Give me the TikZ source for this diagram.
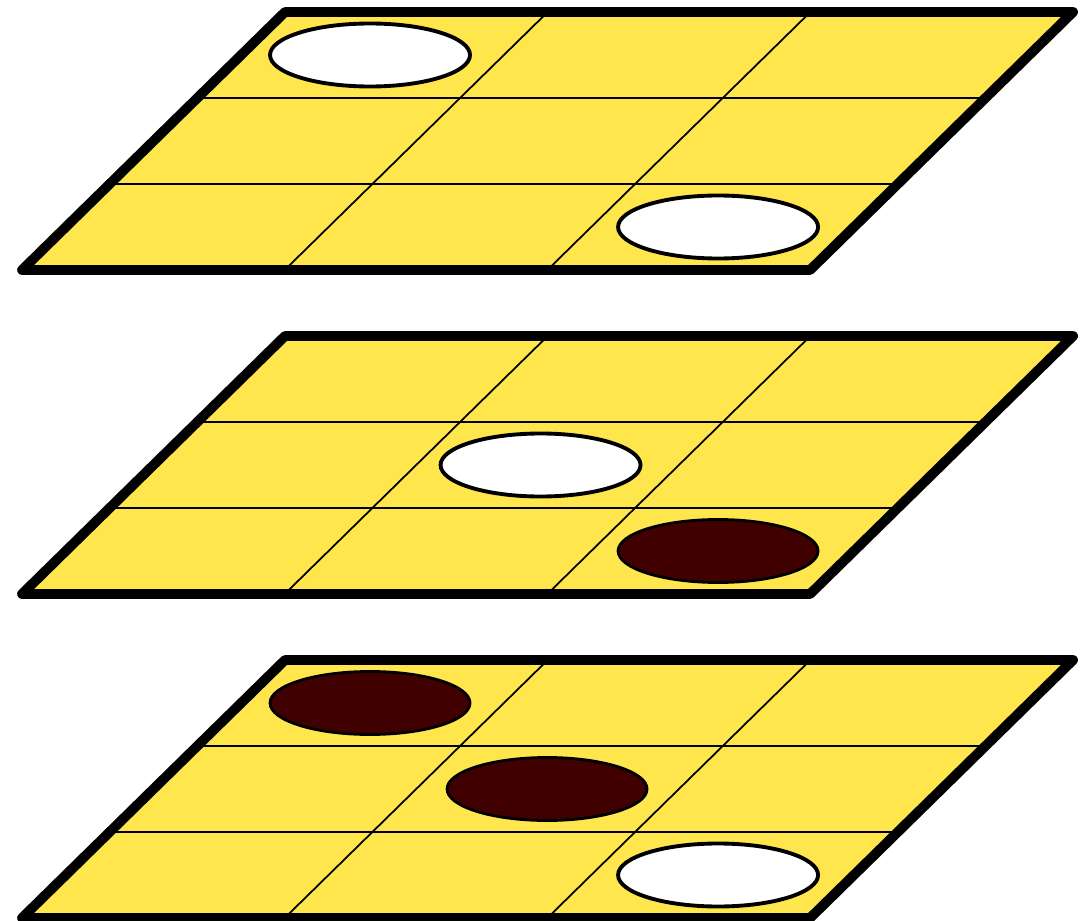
\documentclass[tikz,border=0pt]{standalone}
\usetikzlibrary{shapes.geometric}
\definecolor{boardyellow}{HTML}{FFE64D}
\definecolor{stonered}{HTML}{400000}
\tikzset{
  boardedge/.style={line width=2.8pt,line join=round},
  gridline/.style={line width=0.5pt},
  stone/.style={ellipse,draw,minimum width=2cm,minimum height=0.63cm,inner sep=0pt},
  light/.style={stone,line width=1.1pt,fill=white},
  dark/.style={stone,line width=0.8pt,fill=stonered},
  board/.style={x={(2.627cm,0)},y={(0.8767cm,0.86cm)}}
}
\newcommand{\drawboard}{%
  \fill[boardyellow] (0,0) -- (3,0) -- (3,3) -- (0,3) -- cycle;
  \foreach \k in {1,2}{
    \draw[gridline] (0,\k) -- (3,\k);
    \draw[gridline] (\k,0) -- (\k,3);
  }
  \draw[boardedge] (0,0) -- (3,0) -- (3,3) -- (0,3) -- cycle;
}
\begin{document}
\begin{tikzpicture}
  \useasboundingbox (0,0) rectangle (10.91,9.2);
  % top board
  \begin{scope}[shift={(0.22,6.50)},board]
    \drawboard
    \node[light,xshift=-0.025cm] (top1) at (0.5,2.5) {};
    \node[light,xshift=-0.045cm] (top2) at (2.5,0.5) {};
  \end{scope}
  % middle board
  \begin{scope}[shift={(0.22,3.26)},board]
    \drawboard
    \node[light,xshift=-0.07cm] (mid1) at (1.5,1.5) {};
    \node[dark,xshift=-0.045cm] (mid2) at (2.5,0.5) {};
  \end{scope}
  % bottom board
  \begin{scope}[shift={(0.22,0.02)},board]
    \drawboard
    \node[dark,xshift=-0.025cm] (bot1) at (0.5,2.5) {};
    \node[dark,xshift=-0.005cm] (bot2) at (1.5,1.5) {};
    \node[light,xshift=-0.045cm] (bot3) at (2.5,0.5) {};
  \end{scope}
\end{tikzpicture}
\end{document}
